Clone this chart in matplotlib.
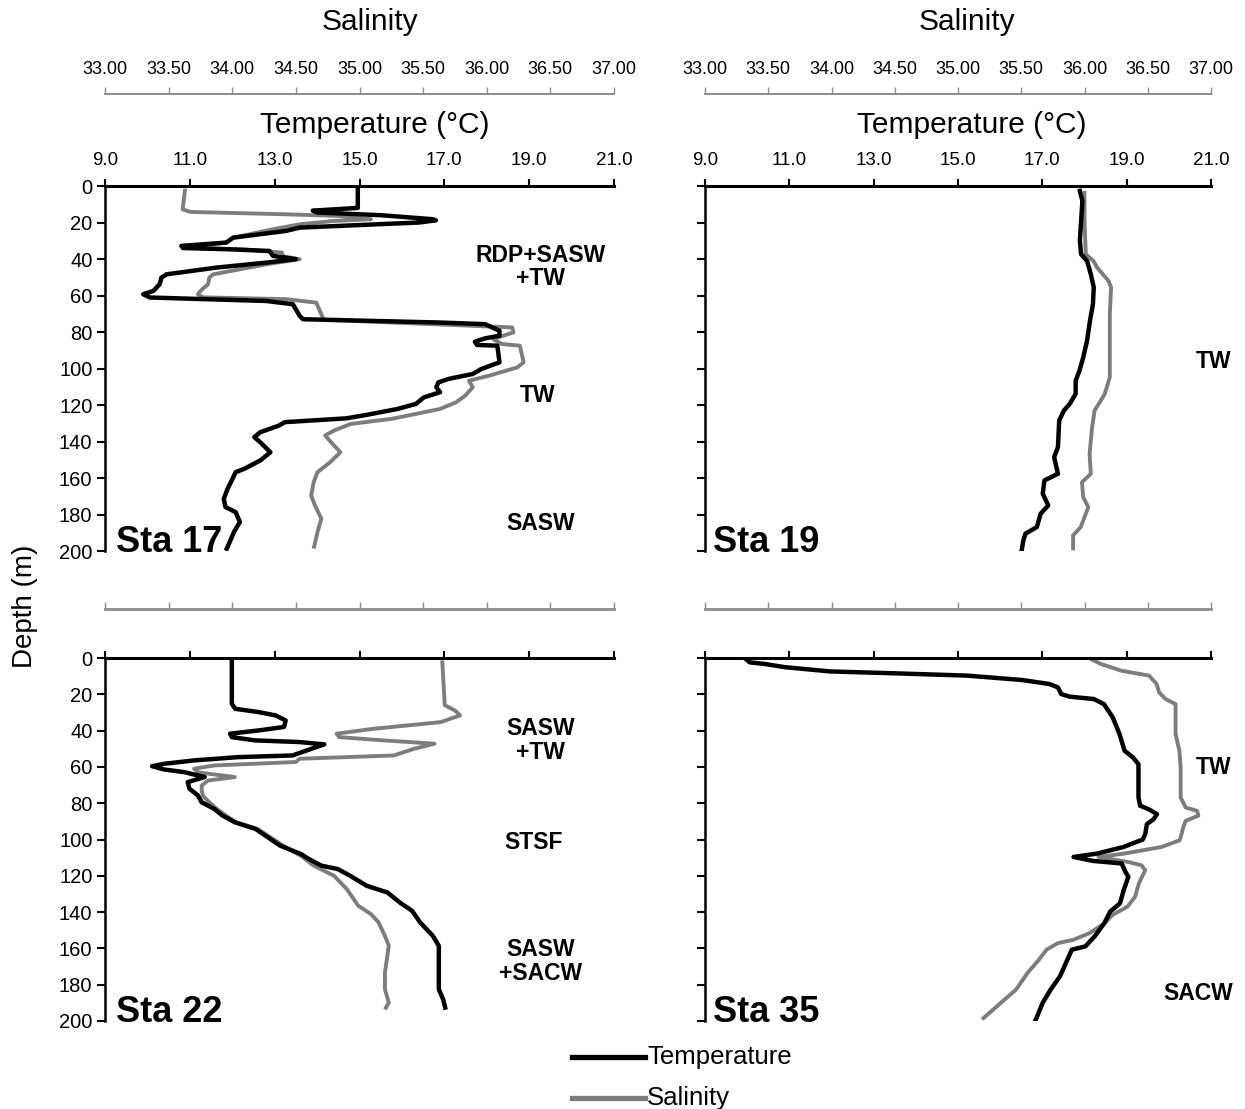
import matplotlib
matplotlib.use('Agg')
import matplotlib.pyplot as plt
import numpy as np
from matplotlib.lines import Line2D

plt.rcParams['font.family'] = ['Liberation Sans', 'DejaVu Sans']

# ---------------- data ----------------
# Station 17
sta17_temp = [14.96, 14.96, 14.96, 13.9, 14.0, 15.5, 16.73, 16.8, 16.41, 15.39, 13.59, 13.27,
              12.02, 11.86, 10.8, 10.84, 11.94, 12.88, 12.96, 13.5, 12.8, 11.63, 10.45, 10.33,
              10.29, 10.14, 9.9, 10.06, 12.8, 13.43, 13.59, 13.67, 16.88, 17.96, 18.3, 18.3,
              17.96, 17.72, 17.77, 18.25, 18.3, 17.87, 17.67, 17.1, 16.86, 16.81, 16.9, 16.52,
              16.33, 15.89, 15.17, 14.69, 13.24, 13.1, 12.66, 12.52, 12.66, 12.9, 12.66, 12.28,
              12.08, 11.99, 11.89, 11.8, 11.84, 12.08, 12.18, 12.04, 11.94, 11.87]
sta17_temp_depth = [1.5, 11, 12, 13.5, 14.5, 16, 18.2, 18.8, 20, 21, 22.8, 24.6,
                    28.3, 31, 32.8, 34, 34.7, 35.6, 38.3, 40.1, 42, 44.7, 48.4, 50.2,
                    53.8, 57.5, 59.3, 61.1, 63, 64.8, 71.2, 73, 74.8, 75.7, 79.3, 82,
                    83.5, 85.3, 87.1, 87.5, 96.6, 100.3, 103, 105.7, 107.6, 110.3, 113, 115.8,
                    119.4, 122.2, 125.4, 127.3, 129.4, 131.3, 134.9, 137.6, 140.4, 145.9, 150.4, 155,
                    156.8, 161.3, 165.9, 171.4, 175.9, 178.7, 184.1, 189.6, 195.1, 198.7]
sta17_sal = [33.63, 33.61, 33.67, 34.42, 34.84, 35.09, 34.79, 34.53, 34.32, 34.01, 33.95,
             33.73, 33.77, 34.10, 34.39, 34.40, 34.53, 34.27, 33.85, 33.82, 33.81, 33.75, 33.73,
             33.77, 34.42, 34.66, 34.70, 34.72, 35.50, 36.20, 36.21, 36.05, 36.12, 36.26, 36.29,
             36.24, 36.02, 35.86, 35.89, 35.83, 35.76, 35.63, 35.38, 35.25, 34.93, 34.80, 34.73,
             34.80, 34.85, 34.77, 34.67, 34.64, 34.62, 34.65, 34.70, 34.67, 34.64]
sta17_sal_depth = [1.5, 12.8, 14.2, 15.5, 16.4, 18.2, 19.2, 21, 23.7, 28.3, 31,
                   32.8, 34, 34.8, 36.5, 38.5, 40.1, 42.9, 48.4, 50.2, 53.8, 57.5, 59.3,
                   61, 62, 63.9, 70.3, 73.3, 75.5, 77.5, 80.2, 83.9, 86.6, 87.5, 96.6,
                   99.4, 103.9, 106.7, 110.3, 114.9, 118.5, 122.2, 125.8, 127.6, 130.4, 134, 136.7,
                   142.2, 145.9, 151.3, 156.8, 162.3, 169.6, 175, 182.3, 189.6, 198.7]

# Station 19
sta19_temp = [17.89, 17.95, 17.92, 17.89, 17.92, 18.06, 18.15, 18.22, 18.2, 18.13, 18.06, 17.97,
              17.88, 17.79, 17.79, 17.65, 17.51, 17.4, 17.37, 17.28, 17.37, 17.05, 17.01, 17.14,
              16.96, 16.87, 16.6, 16.55, 16.51]
sta19_temp_depth = [2.7, 8.2, 19.1, 30, 37.4, 41, 48.3, 55.6, 64.7, 73.8, 84.8, 93.9,
                    101.2, 106.7, 113.9, 119.4, 123.1, 128.5, 143.1, 148.6, 157.7, 161.3, 168.6, 175,
                    179.6, 186.9, 190.5, 194.2, 199.6]
sta19_sal = [36.00, 36.00, 36.01, 36.07, 36.10, 36.19, 36.21, 36.20, 36.20, 36.20, 36.16,
             36.08, 36.06, 36.04, 36.05, 35.98, 35.99, 36.03, 35.97, 35.91, 35.91]
sta19_sal_depth = [2.7, 19.1, 37.4, 41, 44.7, 52, 55.6, 70.2, 88.4, 104.8, 114,
                   123, 132.2, 146.8, 157.7, 162.3, 170.5, 176, 186.9, 191.4, 199.6]

# Station 22
sta22_temp = [11.99, 11.99, 12.07, 12.62, 13.02, 13.26, 13.22, 12.62, 11.95, 11.99, 12.54, 13.58,
              14.17, 13.98, 13.42, 12.15, 11.11, 10.39, 10.11, 10.39, 10.87, 11.35, 10.95, 10.99,
              11.19, 11.28, 11.58, 11.77, 12.06, 12.55, 12.84, 13.13, 13.62, 13.81, 14.1, 14.49,
              14.78, 15.17, 15.66, 15.95, 16.24, 16.43, 16.73, 16.87, 16.87, 16.87, 16.97, 17.02]
sta22_temp_depth = [1.3, 25.2, 28, 29.8, 31.6, 34.4, 38, 39.9, 41.7, 43.6, 45.4, 46.3,
                    47.6, 49.1, 53.7, 54.6, 56.4, 58.3, 59.6, 61.4, 62.9, 65.6, 68.4, 72,
                    75.7, 79.5, 83.2, 86.8, 90.5, 94.2, 98.8, 103.4, 108, 110.8, 114.4, 116.3,
                    120, 125.5, 129.2, 134.7, 139.3, 145.7, 153.1, 158.6, 173.3, 182.5, 188, 192.6]
sta22_sal = [35.65, 35.67, 35.75, 35.79, 35.64, 35.11, 34.82, 34.84, 35.19, 35.59, 35.43,
             35.27, 34.53, 34.50, 33.86, 33.70, 33.73, 34.02, 33.81, 33.76, 33.76, 33.77,
             33.82, 33.88, 33.95, 34.03, 34.20, 34.30, 34.40, 34.54, 34.64, 34.80, 34.90,
             34.99, 35.09, 35.15, 35.20, 35.23, 35.20, 35.20, 35.23, 35.20]
sta22_sal_depth = [1.3, 26, 28.9, 31.6, 35.3, 39, 41.7, 43.6, 45.4, 47.2, 50,
                   53.7, 55.5, 57.3, 59.2, 61, 63, 65.6, 67.5, 70.2, 73, 76,
                   79.5, 83.2, 86.8, 90.5, 94.2, 98.8, 103.4, 109, 114.4, 120, 127.3,
                   136.5, 141.1, 145.7, 153.1, 158.6, 173.3, 182.5, 189.9, 193.6]

# Station 35
sta35_temp = [9.97, 10.06, 10.42, 10.91, 11.97, 13.59, 15.21, 16.51, 17.16, 17.37, 17.45, 17.65,
              18.22, 18.46, 18.67, 18.83, 18.95, 19.15, 19.28, 19.28, 19.28, 19.32, 19.52, 19.72,
              19.64, 19.48, 19.44, 19.38, 18.93, 18.29, 17.74, 18.2, 18.88, 18.97, 19.04, 18.93,
              18.84, 18.61, 18.47, 18.24, 18.02, 17.7, 17.56, 17.42, 17.2, 17.01, 16.88, 16.83]
sta35_temp_depth = [0.6, 2.4, 3.3, 5.1, 7.4, 8.5, 9.7, 12.1, 14.3, 16.2, 19.9, 21.3,
                    22.6, 25.4, 32.7, 41.9, 51.1, 54.8, 58.5, 65.8, 76.8, 81.4, 83.3, 86,
                    88.8, 91.5, 97.1, 100, 104.1, 107.8, 109.6, 111.8, 113.2, 117.8, 120.5, 127.9,
                    135.2, 139.7, 146.1, 153.4, 158.9, 160.7, 168, 175.3, 182.6, 189.9, 197.3, 200]
sta35_sal = [36.05, 36.13, 36.29, 36.51, 36.57, 36.59, 36.64, 36.72, 36.72, 36.75, 36.76,
             36.76, 36.80, 36.89, 36.90, 36.80, 36.78, 36.76, 36.75, 36.61, 36.31, 36.11,
             36.34, 36.45, 36.48, 36.43, 36.40, 36.34, 36.22, 36.16, 36.04, 35.91, 35.79,
             35.70, 35.64, 35.55, 35.46, 35.34, 35.28, 35.19]
sta35_sal_depth = [0.6, 3.3, 7, 9.7, 14.3, 18.9, 22.6, 25.4, 41.9, 51.1, 60.3,
                   76.8, 82.4, 84.2, 86.9, 89.7, 93.4, 98.9, 100.5, 104.1, 107.8, 109.6,
                   112.3, 114.2, 116.9, 124.2, 131.5, 137, 141.6, 146.1, 151.6, 155.3, 157.1,
                   160.7, 166.2, 173.5, 182.6, 189.9, 193.6, 199.1]

temp_ticks = [9, 11, 13, 15, 17, 19, 21]
sal_ticks = [33.0, 33.5, 34.0, 34.5, 35.0, 35.5, 36.0, 36.5, 37.0]
depth_ticks = [0, 20, 40, 60, 80, 100, 120, 140, 160, 180, 200]

# water-mass annotations: (text, temperature-axis x, depth)
labels17 = [("RDP+SASW\n+TW", 19.26, 44.4), ("TW", 19.2, 115), ("SASW", 19.28, 185.2)]
labels19 = [("TW", 21.07, 96.4)]
labels22 = [("SASW\n+TW", 19.26, 45.3), ("STSF", 19.11, 101.8), ("SASW\n+SACW", 19.26, 167)]
labels35 = [("TW", 21.07, 60.4), ("SACW", 20.69, 184.6)]

# ---------------- layout ----------------
W, H = 1245, 1109
fig = plt.figure(figsize=(W / 100, H / 100), dpi=100)

def rect(x0, x1, ytop, ybot):
    return [x0 / W, 1 - ybot / H, (x1 - x0) / W, (ybot - ytop) / H]

GRAY = '#7d7d7d'
AXGRAY = '#8c8c8c'

panels = [
    dict(name='Sta 17', r=rect(105, 614, 186, 551), t=sta17_temp, td=sta17_temp_depth,
         s=sta17_sal, sd=sta17_sal_depth, lab=labels17, top=True, left=True, sx=0.021),
    dict(name='Sta 19', r=rect(705, 1211, 186, 551), t=sta19_temp, td=sta19_temp_depth,
         s=sta19_sal, sd=sta19_sal_depth, lab=labels19, top=True, left=False, sx=0.016),
    dict(name='Sta 22', r=rect(105, 614, 658, 1021), t=sta22_temp, td=sta22_temp_depth,
         s=sta22_sal, sd=sta22_sal_depth, lab=labels22, top=False, left=True, sx=0.021),
    dict(name='Sta 35', r=rect(705, 1211, 658, 1021), t=sta35_temp, td=sta35_temp_depth,
         s=sta35_sal, sd=sta35_sal_depth, lab=labels35, top=False, left=False, sx=0.016),
]

for p in panels:
    ax_s = fig.add_axes(p['r'])
    ax_t = ax_s.twiny()

    # salinity (lower layer)
    ax_s.plot(p['s'], p['sd'], color=GRAY, lw=2.8, solid_capstyle='butt', zorder=2)
    ax_s.set_xlim(33, 37)
    ax_s.set_ylim(200, 0)
    ax_s.xaxis.tick_top()
    ax_s.set_xticks(sal_ticks)
    ax_s.set_xticklabels([f"{v:.2f}" for v in sal_ticks])
    ax_s.tick_params(axis='x', direction='out', length=5, width=1.0, color=AXGRAY,
                     labelsize=13, pad=7, top=True, bottom=False,
                     labeltop=p['top'], labelbottom=False)
    ax_s.set_yticks(depth_ticks)
    ax_s.tick_params(axis='y', direction='out', length=6, width=1.5, color='black',
                     labelsize=14.5, pad=3, labelleft=p['left'])
    for sp in ('bottom', 'right'):
        ax_s.spines[sp].set_visible(False)
    ax_s.spines['top'].set_position(('outward', 66 if p['top'] else 35))
    ax_s.spines['top'].set_color(AXGRAY)
    ax_s.spines['top'].set_linewidth(1.4 if p['top'] else 2.0)
    ax_s.spines['left'].set_linewidth(1.8)
    ax_s.spines['left'].set_color('black')

    # temperature (upper layer)
    ax_t.plot(p['t'], p['td'], color='black', lw=3.2, zorder=3)
    ax_t.set_xlim(9, 21)
    ax_t.set_xticks(temp_ticks)
    ax_t.set_xticklabels([f"{v:.1f}" for v in temp_ticks])
    ax_t.tick_params(axis='x', direction='out', length=5, width=1.5, color='black',
                     labelsize=13.5, pad=7, top=True, bottom=False,
                     labeltop=p['top'], labelbottom=False)
    for sp in ('bottom', 'right', 'left'):
        ax_t.spines[sp].set_visible(False)
    ax_t.spines['top'].set_linewidth(2.2)
    ax_t.spines['top'].set_color('black')

    for txt, x, y in p['lab']:
        ax_t.text(x, y, txt, ha='center', va='center', multialignment='center',
                  fontsize=16.5, fontweight='bold', linespacing=1.05, clip_on=False)
    ax_t.text(p['sx'], -0.003, p['name'], transform=ax_t.transAxes, ha='left',
              va='baseline', fontsize=26, fontweight='bold')

# axis titles
for cx, y, txt in [(370, 22, 'Salinity'), (967, 22, 'Salinity'),
                   (375, 125, 'Temperature (°C)'), (972, 125, 'Temperature (°C)')]:
    fig.text(cx / W, 1 - y / H, txt, ha='center', va='center', fontsize=21.5)

fig.text(25 / W, 1 - 606 / H, 'Depth (m)', rotation=90, ha='center', va='center', fontsize=20)

# legend
for y, col, txt in [(1057, 'black', 'Temperature'), (1098, GRAY, 'Salinity')]:
    fig.add_artist(Line2D([572 / W, 645 / W], [1 - y / H, 1 - y / H], color=col, lw=3.8,
                          transform=fig.transFigure))
    fig.text(647 / W, 1 - y / H, txt, ha='left', va='center', fontsize=18.5)

fig.savefig('out.png', dpi=100)
